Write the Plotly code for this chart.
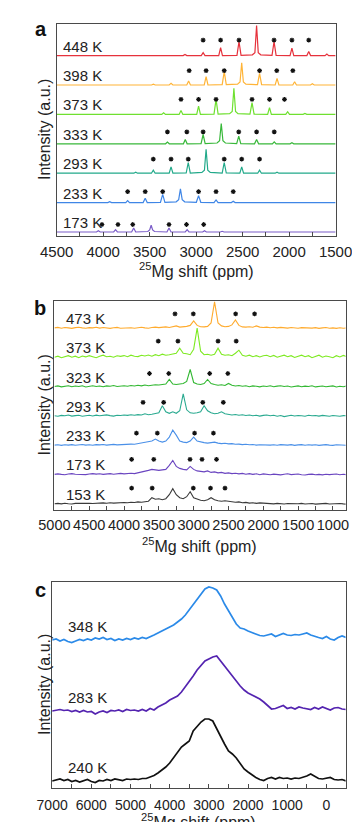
import plotly.graph_objects as go

FONT = "Liberation Sans, Arial, Helvetica, sans-serif"
W, H = 360, 822

# ---------------- panel a : (ppm, intensity) vertices ----------------
A_LABELS = ["173 K", "233 K", "293 K", "333 K", "373 K", "398 K", "448 K"]
A_173 = [(4500,0),(4072,0),(4052,1.3),(4032,0),(3887,0),(3867,2.3),(3847,0),(3694,0),(3672,4),(3650,0),
         (3520,0.5),(3500,2),(3484,6.7),(3468,2),(3448,0.5),(3314,0),(3292,4),(3270,0),(3117,0),(3097,2.3),
         (3077,0),(2930,0),(2910,1.3),(2890,0),(2740,0),(2720,0.7),(2700,0),(1500,0)]
A_233 = [(4500,0),(3950,0),(3930,1),(3910,0),(3757,0),(3737,2),(3717,0),(3570,0),(3548,4.3),(3526,0),
         (3384,0.3),(3360,8.3),(3336,0.3),(3215,0.8),(3188,3),(3169,13.7),(3150,3),(3123,0.8),(2998,0.3),
         (2974,7),(2950,0.3),(2808,0),(2786,2.7),(2764,0),(2621,0),(2601,1.3),(2581,0),(2420,0),(2400,0.5),
         (2380,0),(1500,0)]
A_293 = [(4500,0),(3670,0),(3650,1),(3630,0),(3481,0),(3461,3),(3441,0),(3290,0),(3270,6.3),(3250,0),
         (3107,0.2),(3085,10.7),(3063,0.2),(2938,0.8),(2911,3),(2893,24),(2875,3),(2848,0.8),(2720,0.2),
         (2698,10.7),(2676,0.2),(2530,0),(2510,6.3),(2490,0),(2338,0),(2318,3),(2298,0),(2150,0),(2130,1),
         (2110,0),(1500,0)]
A_333 = [(4500,0),(3520,0),(3500,0.7),(3480,0),(3329,0),(3309,1.7),(3289,0),(3137,0),(3117,4.3),(3097,0),
         (2947,0.2),(2925,9.3),(2903,0.2),(2775,0.8),(2748,3),(2730,20.3),(2712,3),(2685,0.8),(2564,0.2),
         (2542,7.7),(2520,0.2),(2372,0),(2350,4.3),(2328,0),(2180,0),(2160,2),(2140,0),(1990,0),(1970,1),
         (1950,0),(1500,0)]
A_373 = [(4500,0),(3370,0),(3350,1.7),(3330,0),(3183,0),(3163,4),(3143,0),(2994,0),(2974,8.3),(2954,0),
         (2808,0.3),(2786,15),(2764,0.3),(2640,0.8),(2612,3),(2594,26),(2576,3),(2550,0.8),(2421,0.3),
         (2399,11.7),(2377,0.3),(2231,0),(2211,6.7),(2191,0),(2036,0),(2016,2.7),(1996,0),(1850,0),(1830,1),
         (1810,0),(1500,0)]
A_398 = [(4500,0),(3480,0),(3460,0.8),(3440,0),(3290,0),(3270,1.6),(3250,0),(3101,0),(3081,4),(3061,0),
         (2913,0),(2893,8.3),(2873,0),(2720,0.3),(2698,13.3),(2676,0.3),(2555,0.8),(2528,3),(2510,22.3),
         (2492,3),(2465,0.8),(2340,0.3),(2318,11.7),(2296,0.3),(2150,0),(2130,6.7),(2110,0),(1961,0),
         (1941,3.3),(1921,0),(1770,0),(1750,1.3),(1730,0),(1500,0)]
A_448 = [(4500,0),(3330,0),(3310,0.6),(3290,0),(3140,0),(3120,1.2),(3100,0),(2945,0),(2925,3),(2905,0),
         (2757,0),(2737,8),(2717,0),(2561,0.3),(2539,14),(2517,0.3),(2395,0.8),(2368,3),(2350,30),(2332,3),
         (2305,0.8),(2184,0.3),(2162,14),(2140,0.3),(1990,0),(1970,7.5),(1950,0),(1809,0),(1789,4),(1769,0),
         (1614,0),(1594,1.5),(1574,0),(1500,0)]
A_SPECTRA = [A_173, A_233, A_293, A_333, A_373, A_398, A_448]
A_STARS = [[4013, 3841, 3682, 3292, 3104, 2919],
           [3737, 3548, 3360, 2974, 2786, 2601],
           [3461, 3270, 3085, 2698, 2510, 2318],
           [3309, 3100, 2925, 2542, 2350, 2160],
           [3163, 2974, 2786, 2399, 2211, 2050],
           [3075, 2893, 2698, 2318, 2133, 1960],
           [2925, 2737, 2539, 2162, 1970, 1789]]
A_STAR_H = [7.5, 11, 14, 12, 15, 14.3, 15.5]

# ---------------- panel b : intensities on a 50 ppm grid (5000 -> 800) ----------------
B_PPM = list(range(5000, 799, -50))
B_LABELS = ["153 K", "173 K", "233 K", "293 K", "323 K", "373 K", "473 K"]
B_153 = [0, 0.3, -0.2, 0.4, 0, -0.3, 0.3, 0.5, 0, 0.2,
         0.5, 0.2, 0.6, 0.3, 0.8, 0.4, 1, 0.6, 1, 0.8,
         1.2, 1, 1.5, 1.2, 1.8, 1.5, 2, 2.5, 6, 4.5,
         5, 4, 5, 9, 15, 9, 6, 5, 7, 12,
         6, 4.5, 3.5, 3, 4, 6, 4, 3, 2.5, 3,
         2.5, 2, 1.5, 1.8, 1, 1.3, 0.6, 1, 0.3, 0.8,
         0.5, 0, 0.4, -0.2, 0.3, 0, -0.3, 0.2, 0, -0.4,
         0, 0.3, -0.3, 0, 0.2, -0.4, 0, -0.2, 0.3, -0.3,
         0, -0.4, 0.2, -0.2, -0.5]
B_173 = [0, 0.5, 0, -0.3, 0.4, 0.8, 0.2, 0, 0.5, -0.2,
         0.4, 0.8, 0.3, 0.6, 0, 0.5, 0.8, 0.2, 0.6, 1,
         0.5, 1, 1.2, 0.8, 1.5, 2, 3, 4, 5, 4.5,
         4, 4.5, 5, 9, 14, 8, 6, 5, 4.5, 8,
         5, 3.5, 3, 2.5, 3.5, 2, 2.5, 1.5, 2, 1,
         1.5, 0.8, 1.2, 0.5, 1, 0.2, 0.8, 0, 0.6, -0.3,
         0.5, 0.2, -0.4, 0.3, 0, -0.5, 0.2, 0.6, -0.2, 0,
         0.4, -0.3, -0.6, 0, 0.3, -0.4, 0, -0.5, 0.2, -0.2,
         0, 0.4, -0.3, 0.2, -0.4]
B_233 = [0, 0.3, -0.3, 0.4, 0, 0.5, -0.2, 0.3, 0.6, 0,
         0.4, -0.2, 0.5, 0.2, 0.6, 0, 0.4, 0.7, 0.2, 0.5,
         0.8, 0.4, 1, 0.8, 1.5, 2, 2.5, 3, 4, 6,
         4, 3, 4, 8, 15, 10, 4, 3, 2.5, 4,
         8, 4, 3, 2.5, 2, 2.5, 3, 2, 1.5, 1.8,
         1.2, 1.5, 0.8, 1, 0.5, 0.8, 0.3, 0.6, 0, 0.4,
         0.2, 0.6, 0, 0.4, -0.2, 0.5, 0.2, 0, 0.5, -0.3,
         0.2, 0.5, -0.2, 0.3, 0, 0.4, -0.3, 0.2, 0.5, 0,
         -0.3, 0.3, 0, 0.4, -0.2]
B_293 = [0, -0.5, 0.4, 0, 0.8, -0.3, 0.2, 0.6, -0.4, 0.3,
         0.5, -0.2, 0.7, 0, 0.4, 0.9, 0.2, -0.3, 0.6, 0.3,
         0.8, 0.4, 1, 0.5, 1.2, 0.8, 2, 1, 1.5, 2,
         3, 10, 4, 2.5, 4, 2.5, 5, 22, 6, 3,
         2.5, 3, 4, 10, 5, 3, 2, 2.5, 4, 2,
         1.5, 0.8, 1.3, 0.5, 1, 0.3, 0.8, 0, 0.6, -0.3,
         0.4, 0.8, 0, 0.5, -0.5, 0.3, -0.8, 0.2, 0.5, -0.2,
         0.3, 0, -0.4, 0.5, 0, 0.3, -0.3, 0.4, 0, -0.5,
         0.3, 0, -0.4, 0.2, 0]
B_323 = [0, 0.6, -0.4, 0.3, 0.8, -0.3, 0.5, 0, 0.7, -0.5,
         0.3, 0.8, 0, 0.5, -0.3, 0.6, 0.2, 1, 0, 0.5,
         0.8, 0.2, 1, 0.5, 1.2, 0.6, 1.5, 0.8, 1.3, 1.8,
         1.5, 2, 2.5, 7, 2.5, 2, 2.5, 3, 5, 17,
         4, 2.5, 2, 3, 7, 3, 2, 1.2, 1.8, 1,
         3, 1.2, 0.5, 1, 0.3, 0.8, -0.2, 0.6, 0.2, -0.4,
         0.5, 0, 0.7, -0.3, 0.4, 0.8, 0, 0.5, -0.5, 0.3,
         0.6, -0.2, 0.4, 0, 0.7, -0.4, 0.3, 0.5, -0.3, 0.2,
         0.6, -0.5, 0.3, -0.2, 0.5]
B_373 = [0, 1, -0.5, 0.8, 1.5, 0, 1, -0.5, 1.2, 0.3,
         1.5, 0.5, -0.5, 1, 2, 0.5, 1, 0, 1.5, 0.8,
         1.6, 0.5, 2, 1, 0.6, 2, 1.2, 2.2, 1, 2.5,
         1.5, 3, 2, 2.5, 3.5, 4, 9, 4, 3.5, 2.5,
         8, 29, 6, 2.5, 3, 2, 3, 9, 3, 2,
         2.5, 1.5, 4, 7, 2, 1, 2, 0.5, 1.5, 0.3,
         1.5, 2, 0.5, 1.8, 0, 1.2, 2, 0.5, 1.5, -0.3,
         1, 2, 0.5, 1.5, -0.5, 1, 2, 0, 1.2, 0.4,
         -0.5, 1.5, 0.3, 1.8, 0.6]
B_473 = [0, 0.5, -0.3, 0.4, 0, -0.5, 0.3, 0.6, 0, -0.4,
         0.3, 0, 0.6, -0.2, 0.4, 0, -0.5, 0.2, 0.5, -0.3,
         0, 0.5, 0.2, -0.4, 0.3, 0.6, 0, -0.3, 0.4, 0.8,
         0.3, 0.6, 1, 0.4, 1.2, 2, 0.8, 1, 1.5, 2.5,
         7, 2.5, 1.2, 1, 1.5, 5, 26, 5, 2, 1.2,
         1.5, 3, 8, 2.5, 1, 0.8, 1.2, 0.6, 2, 0.8,
         0.4, 0.8, 0.2, 0.6, 0, 0.5, 0.3, -0.2, 0.4, 0,
         -0.3, 0.3, 0, -0.6, -0.2, 0.3, -0.5, 0, 0.4, -0.3,
         0, -0.5, 0.2, -0.4, 0]
B_SPECTRA = [B_153, B_173, B_233, B_293, B_323, B_373, B_473]
B_STARS = [[3891, 3596, 3005, 2758, 2550],
           [3891, 3573, 3052, 2880, 2672],
           [3822, 3522, 2987, 2716],
           [3727, 3431, 2869, 2574],
           [3635, 3358, 2770, 2509],
           [3509, 3226, 2650, 2389],
           [3268, 3005, 2397, 2125]]
B_STAR_H = [15.5, 15, 12, 13.5, 13, 16, 14]

# ---------------- panel c : intensities on a 100 ppm grid (7000 -> -500) ----------------
C_PPM = list(range(7000, -501, -100))
C_LABELS = ["240 K", "283 K", "348 K"]
C_240 = [0, 1, 2, 0.5, 1.5, -0.5, 0.5, -1, 0.5, 1.5,
         -0.5, -1.5, 0.5, 0, 1.5, 0.5, 2, 1, 0.5, 2,
         1.5, 2, 1.5, 2.5, 2.5, 4, 5.5, 8, 11, 14,
         18, 23, 29, 34, 37, 40, 50, 55, 59, 62,
         62, 60, 52, 44, 37, 30, 27, 23, 18, 12,
         9, 6, 3.5, 1.5, 0.5, 2.5, 3.5, 2, 3.5, 2.5,
         3, 2, 3, 2.5, 3.5, 5, 7, 5, 2.5, 2,
         3, 3.5, 1.5, 1, 1.5, 0]
C_283 = [0, 0.5, 1.5, 0.5, 1, -0.5, 0.5, -1, 0.5, -1,
         -0.5, -3, -1, 0, -1.5, 0.5, 0, 1, -0.5, 1.5,
         0.5, 1, 0, 1.5, 0, 2.5, 1, 4, 6, 8,
         11, 13, 15, 19, 24, 30, 35, 41, 46, 50,
         52, 54, 55, 50, 44, 40, 35, 30, 25, 21,
         18, 16, 14, 12, 9, 5.5, 2, 2.5, 4, 5.5,
         2.5, 3.5, 2, 4, 3, 2.5, 1.5, 3.5, 2, 4,
         2.5, 1, 3, 3.5, 2, 1.5]
C_348 = [0, 1, -1, 0.5, -1.5, -2.5, -1, 0.5, -0.5, 1,
         0, 2, 1, 2.5, 0.5, 1.5, -0.5, 1, 0, 1.5,
         0.5, 2, 1, 2.5, 1.5, 3, 5, 7, 9, 11,
         13, 15, 18, 21, 25, 30, 36, 41, 46, 51,
         53, 52, 50, 44, 36, 29, 22, 16, 12, 11,
         9, 7.5, 6, 4.5, 4, 5, 6, 3.5, 5, 6.5,
         5, 4.5, 5.5, 5, 6, 7, 5, 3.5, 2.5, 1.5,
         3.5, 1, 0, 2.5, 4, 2.5]
C_SPECTRA = [C_240, C_283, C_348]

# ---------------- styles / layout constants ----------------
A_COLORS = ["#7a5cc8", "#3f86e6", "#22a98a", "#38b83a", "#6fe030", "#ffb437", "#e6323c"]
B_COLORS = ["#3a3a3a", "#6a45c0", "#4a90e8", "#2aaa90", "#33b833", "#7eea22", "#ffab2e"]
C_COLORS = ["#111111", "#5424b0", "#2b8ae8"]
A_OFFSETS = [4, 33.4, 62.8, 92.2, 121.6, 151, 180.4]
B_OFFSETS = [6.3, 35.6, 64.9, 94.2, 123.5, 152.8, 182.1]
C_OFFSETS = [7, 77, 148]

# panel boxes in pixels (left, right, top, bottom)
BOX = {"a": (35, 343, 16, 228), "b": (32.5, 354, 293, 502), "c": (30, 354, 574, 780)}

fig = go.Figure()

def px_dom_x(l, r):
    return [l / W, r / W]

def px_dom_y(t, b):
    return [1 - b / H, 1 - t / H]

STAR = dict(symbol="asterisk-open", size=4, color="#111", line=dict(width=1.2, color="#111"))

# panel a traces
for pts, off, col, stars, sh in zip(A_SPECTRA, A_OFFSETS, A_COLORS, A_STARS, A_STAR_H):
    fig.add_trace(go.Scatter(x=[p for p, _ in pts], y=[off + v for _, v in pts], mode="lines",
                             line=dict(color=col, width=1.2), xaxis="x", yaxis="y", showlegend=False))
    fig.add_trace(go.Scatter(x=stars, y=[off + sh] * len(stars), mode="markers", marker=STAR,
                             xaxis="x", yaxis="y", showlegend=False))
# panel b traces
for ys, off, col, stars, sh in zip(B_SPECTRA, B_OFFSETS, B_COLORS, B_STARS, B_STAR_H):
    fig.add_trace(go.Scatter(x=B_PPM, y=[off + v for v in ys], mode="lines",
                             line=dict(color=col, width=1.1), xaxis="x2", yaxis="y2", showlegend=False))
    fig.add_trace(go.Scatter(x=stars, y=[off + sh] * len(stars), mode="markers", marker=STAR,
                             xaxis="x2", yaxis="y2", showlegend=False))
# panel c traces
for ys, off, col in zip(C_SPECTRA, C_OFFSETS, C_COLORS):
    fig.add_trace(go.Scatter(x=C_PPM, y=[off + v for v in ys], mode="lines",
                             line=dict(color=col, width=1.7), xaxis="x3", yaxis="y3", showlegend=False))

AXCOL = "#4a4a4a"

def xax(key, rng, dtick, minor, fsize, standoff):
    l, r, t, b = BOX[key]
    return dict(domain=px_dom_x(l, r), range=rng, autorange=False, showgrid=False, zeroline=False,
                showline=True, mirror=True, linecolor=AXCOL, linewidth=1,
                ticks="inside", ticklen=4, tickcolor=AXCOL, tickwidth=1, dtick=dtick, tick0=0,
                minor=dict(ticks="inside", ticklen=4, tickcolor=AXCOL, dtick=minor, tick0=0, showgrid=False),
                tickangle=0, tickfont=dict(family=FONT, size=fsize, color="#222"),
                ticklabelstandoff=standoff)

def yax(key, top):
    l, r, t, b = BOX[key]
    return dict(domain=px_dom_y(t, b), range=[0, top], autorange=False, showgrid=False, zeroline=False,
                showline=True, mirror=True, linecolor=AXCOL, linewidth=1, ticks="",
                showticklabels=False)

layout = dict(width=W, height=H, margin=dict(l=0, r=0, t=0, b=0),
              paper_bgcolor="white", plot_bgcolor="white", showlegend=False,
              font=dict(family=FONT, color="#222"))
layout["xaxis"] = dict(xax("a", [4500, 1500], 500, 250, 15, 2), anchor="y")
layout["yaxis"] = dict(yax("a", 212), anchor="x")
layout["xaxis2"] = dict(xax("b", [5000, 818], 500, 250, 14.5, 2), anchor="y2")
layout["yaxis2"] = dict(yax("b", 209), anchor="x2")
layout["xaxis3"] = dict(xax("c", [7000, -490], 1000, 500, 14, 4), anchor="y3")
layout["yaxis3"] = dict(yax("c", 206), anchor="x3")

ann = []
LBL = dict(family=FONT, size=15, color="#222")
for lab, off in zip(A_LABELS, A_OFFSETS):
    ann.append(dict(x=4450, y=off + 9.5, xref="x", yref="y", text=lab, showarrow=False,
                    xanchor="left", yanchor="middle", font=LBL))
for lab, off in zip(B_LABELS, B_OFFSETS):
    ann.append(dict(x=4865, y=off + 9.5, xref="x2", yref="y2", text=lab, showarrow=False,
                    xanchor="left", yanchor="middle", font=LBL))
for lab, off in zip(C_LABELS, C_OFFSETS):
    ann.append(dict(x=6650, y=off + 14, xref="x3", yref="y3", text=lab, showarrow=False,
                    xanchor="left", yanchor="middle", font=LBL))

TITLE = dict(family=FONT, size=16, color="#222")
for key, ty in (("a", 262), ("b", 537), ("c", 813)):
    l, r, t, b = BOX[key]
    ann.append(dict(x=(l + r) / 2 / W, y=1 - ty / H, xref="paper", yref="paper",
                    text="<sup>25</sup>Mg shift (ppm)", showarrow=False,
                    xanchor="center", yanchor="middle", font=TITLE))
    ann.append(dict(x=21 / W, y=1 - (t + b) / 2 / H, xref="paper", yref="paper",
                    text="Intensity (a.u.)", textangle=-90, showarrow=False,
                    xanchor="center", yanchor="middle", font=TITLE))
for letter, lx, ly in (("a", 18, 21), ("b", 17, 300), ("c", 17, 582)):
    ann.append(dict(x=lx / W, y=1 - ly / H, xref="paper", yref="paper", text="<b>%s</b>" % letter,
                    showarrow=False, xanchor="center", yanchor="middle",
                    font=dict(family=FONT, size=20, color="#111")))
layout["annotations"] = ann

fig.update_layout(**layout)
fig.write_html("out.html")
